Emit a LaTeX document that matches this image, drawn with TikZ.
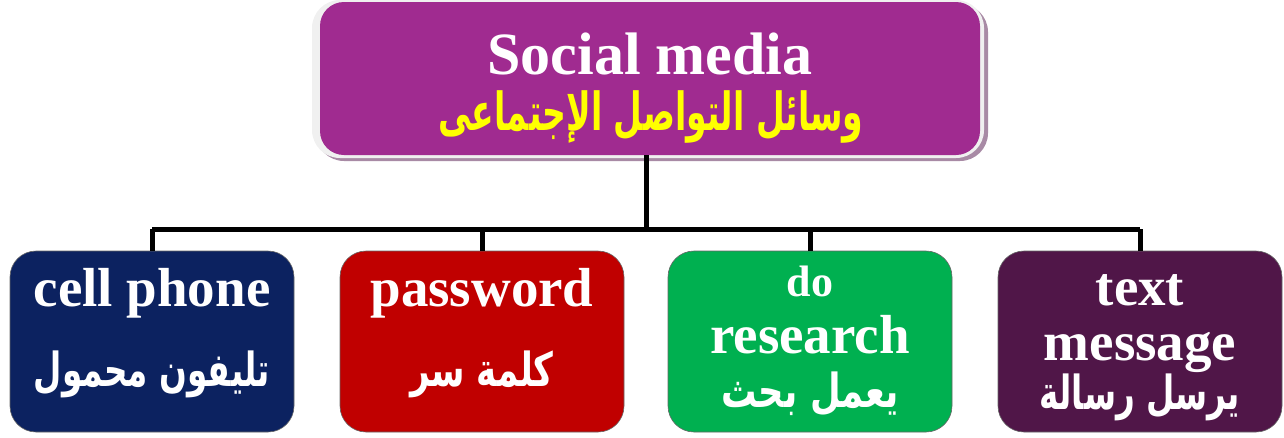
\documentclass[tikz,border=0pt]{standalone}
\usepackage{fontspec}
\usepackage{graphicx}
\setmainfont{Liberation Serif}
\newfontfamily\arabicfont[Script=Arabic,BoldFont={DejaVu Sans Bold}]{DejaVu Sans}
\TeXXeTstate=1
\definecolor{topfill}{RGB}{160,43,144}
\definecolor{topframe}{RGB}{240,240,240}
\definecolor{topshadow}{RGB}{168,138,165}
\definecolor{navyfill}{RGB}{12,34,96}
\definecolor{redfill}{RGB}{192,0,0}
\definecolor{greenfill}{RGB}{0,176,80}
\definecolor{plumfill}{RGB}{80,22,72}
\definecolor{arabyellow}{RGB}{255,255,0}
\tikzset{
  leafbox/.style={rounded corners=26pt, minimum width=284pt, minimum height=181pt, inner sep=0pt, draw=black!60, line width=0.6pt},
  entxt/.style={anchor=base, inner sep=0pt, text=white, font=\fontsize{55}{55}\selectfont\bfseries},
  artxt/.style={anchor=base, inner sep=0pt, text=white, font=\arabicfont\fontsize{34}{34}\selectfont\bfseries},
  conn/.style={line width=5pt, draw=black}
}
\begin{document}
\begin{tikzpicture}[x=1pt,y=-1pt]
\useasboundingbox (0,0) rectangle (1284,437);
% top box with frame
\fill[topshadow, rounded corners=28pt] (316,4) rectangle (988,161);
\fill[topframe, rounded corners=28pt] (312,0) rectangle (984,158);
\node[fill=topfill, rounded corners=24pt, minimum width=660pt, minimum height=153pt, inner sep=0pt] (top) at (650,78.5) {};
\node[anchor=base, inner sep=0pt, text=white, font=\fontsize{60}{60}\selectfont\bfseries] (toptxt) at (650,74) {Social media};
\node[anchor=base, inner sep=0pt, text=arabyellow, font=\arabicfont\fontsize{38}{38}\selectfont\bfseries] (topar) at (651,130) {\scalebox{0.87}[1.38]{\beginR وسائل التواصل الإجتماعى\endR}};
% leaf boxes
\node[leafbox, fill=navyfill] (b1) at (152,341.5) {};
\node[leafbox, fill=redfill] (b2) at (482,341.5) {};
\node[leafbox, fill=greenfill] (b3) at (810,341.5) {};
\node[leafbox, fill=plumfill] (b4) at (1140,341.5) {};
% connectors
\coordinate (hub) at (646,229);
\draw[conn] (top.south -| hub) -- (hub);
\draw[conn] (b1.north |- hub) -- (b4.north |- hub);
\draw[conn] (b1.north |- hub) -- (b1.north);
\draw[conn] (b2.north |- hub) -- (b2.north);
\draw[conn] (b3.north |- hub) -- (b3.north);
\draw[conn] (b4.north |- hub) -- (b4.north);
% texts
\node[entxt] (t1a) at (152,306) {cell phone};
\node[artxt] (t1b) at (152,386) {\scalebox{0.96}[1.38]{\beginR تليفون محمول\endR}};
\node[entxt] (t2a) at (482,306) {password};
\node[artxt] (t2b) at (482,386) {\scalebox{1.0}[1.38]{\beginR كلمة سر\endR}};
\node[entxt, font=\fontsize{44}{44}\selectfont\bfseries] (t3a) at (810,296) {do};
\node[entxt] (t3b) at (810,353) {research};
\node[artxt] (t3c) at (810,407) {\scalebox{1.04}[1.38]{\beginR يعمل بحث\endR}};
\node[entxt] (t4a) at (1140,305) {text};
\node[entxt] (t4b) at (1140,360) {message};
\node[artxt] (t4c) at (1140,409) {\scalebox{0.96}[1.38]{\beginR يرسل رسالة\endR}};
\end{tikzpicture}
\end{document}
